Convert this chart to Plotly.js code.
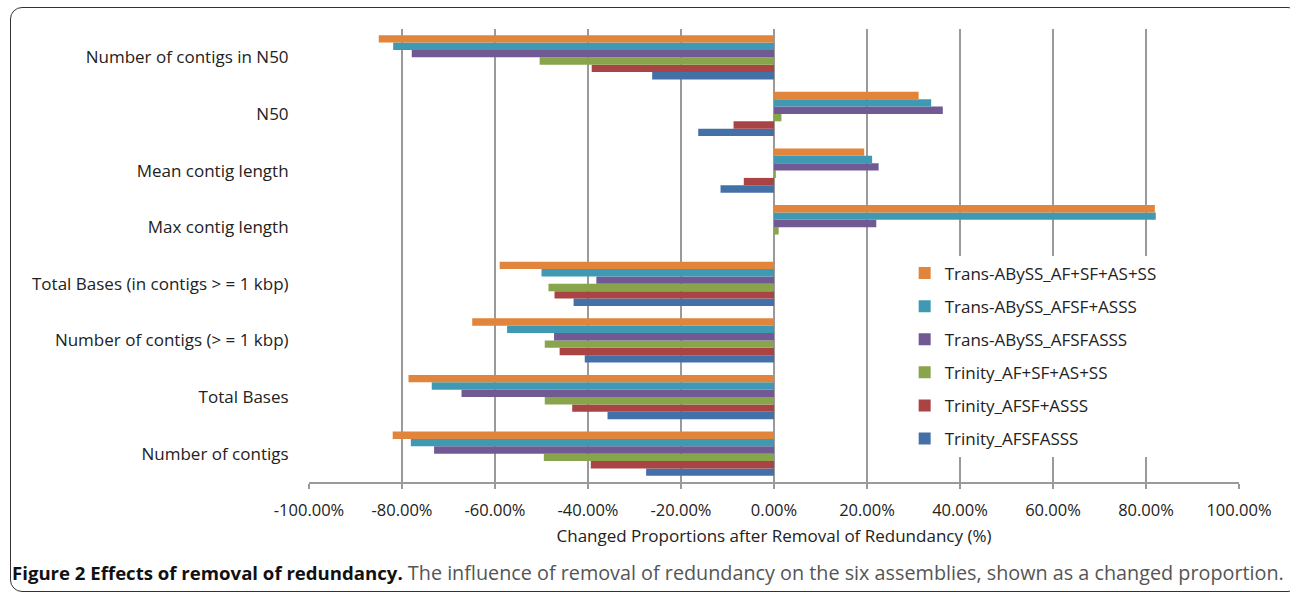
<!DOCTYPE html>
<html>
<head>
<meta charset="utf-8">
<script src="https://cdn.plot.ly/plotly-3.0.1.min.js"></script>
<style>
  html, body { margin:0; padding:0; background:#fff; }
  #wrap { position:relative; width:1290px; height:596px; overflow:hidden; }
  #frame { position:absolute; left:10px; top:7px; width:1290px; height:585px; border:1.5px solid #333; border-radius:12px; box-sizing:border-box; }
  #chart { position:absolute; left:0; top:0; width:1290px; height:596px; }
  #caption { position:absolute; left:12px; top:559px; font-family:"Open Sans", sans-serif; font-size:19.8px; color:#555; white-space:nowrap; }
  #caption b { color:#111; font-size:18.6px; }
</style>
</head>
<body>
<div id="wrap">
  <div id="frame"></div>
  <div id="chart"></div>
  <div id="caption"><b>Figure 2 Effects of removal of redundancy.</b> The influence of removal of redundancy on the six assemblies, shown as a changed proportion.</div>
</div>
<script>
// Categories, bottom to top
const categories = [
  "Number of contigs",
  "Total Bases",
  "Number of contigs (> = 1 kbp)",
  "Total Bases (in contigs > = 1 kbp)",
  "Max contig length",
  "Mean contig length",
  "N50",
  "Number of contigs in N50"
];

// Series values (%), same order as categories
const trinity_AFSFASSS        = [-27.5, -35.8, -40.7, -43.1,  0.0, -11.5, -16.3, -26.2];
const trinity_AFSF_ASSS       = [-39.4, -43.4, -46.1, -47.2,  0.0,  -6.5,  -8.7, -39.2];
const trinity_AF_SF_AS_SS     = [-49.5, -49.3, -49.3, -48.5,  1.0,   0.4,   1.6, -50.4];
const transAbyss_AFSFASSS     = [-73.1, -67.2, -47.3, -38.2, 22.0,  22.5,  36.3, -77.9];
const transAbyss_AFSF_ASSS    = [-78.1, -73.6, -57.4, -50.0, 82.1,  21.1,  33.8, -81.9];
const transAbyss_AF_SF_AS_SS  = [-82.0, -78.6, -64.9, -59.0, 81.9,  19.4,  31.1, -85.0];

const seriesNames = [
  "Trinity_AFSFASSS",
  "Trinity_AFSF+ASSS",
  "Trinity_AF+SF+AS+SS",
  "Trans-ABySS_AFSFASSS",
  "Trans-ABySS_AFSF+ASSS",
  "Trans-ABySS_AF+SF+AS+SS"
];
const seriesValues = [trinity_AFSFASSS, trinity_AFSF_ASSS, trinity_AF_SF_AS_SS,
                      transAbyss_AFSFASSS, transAbyss_AFSF_ASSS, transAbyss_AF_SF_AS_SS];
const colors = ["#4470A8", "#AA4444", "#88A54C", "#715A93", "#4099B3", "#E0853B"];

const xTickVals = [-100,-80,-60,-40,-20,0,20,40,60,80,100];
const xTickText = ["-100.00%","-80.00%","-60.00%","-40.00%","-20.00%","0.00%","20.00%","40.00%","60.00%","80.00%","100.00%"];

const traces = seriesNames.map((n, i) => ({
  type: "bar",
  orientation: "h",
  name: n,
  y: categories,
  x: seriesValues[i],
  marker: { color: colors[i] },
  legendgroup: "g" + i,
  legendrank: seriesNames.length - i,
  hoverinfo: "x+name"
}));

const boundaries = [];
for (let k = 0; k <= categories.length; k++) boundaries.push(k - 0.5);

const font = "Open Sans, sans-serif";
const layout = {
  width: 1290, height: 596,
  margin: { l: 309, r: 51, t: 29, b: 114 },
  paper_bgcolor: "rgba(0,0,0,0)",
  plot_bgcolor: "rgba(0,0,0,0)",
  barmode: "group",
  bargap: 0.22,
  bargroupgap: 0,
  font: { family: font, size: 15, color: "#222" },
  showlegend: true,
  legend: {
    x: 0.6405, y: 0.5, xanchor: "left", yanchor: "top",
    traceorder: "grouped",
    tracegroupgap: 8,
    bgcolor: "#fff",
    font: { family: font, size: 17, color: "#222" }
  },
  xaxis: {
    range: [-100, 100],
    tickvals: xTickVals,
    ticktext: xTickText,
    showgrid: true, gridcolor: "#9a9a9a", gridwidth: 1.5,
    zeroline: false,
    showline: true, linecolor: "#9a9a9a", linewidth: 2,
    ticks: "outside", ticklen: 5, tickcolor: "#9a9a9a", tickwidth: 1.5,
    ticklabelstandoff: 7,
    tickfont: { family: font, size: 16.5, color: "#222" },
    title: { text: "Changed Proportions after Removal of Redundancy (%)", font: { family: font, size: 17, color: "#222" }, standoff: 10 },
    fixedrange: true
  },
  yaxis: {
    type: "category",
    categoryorder: "array",
    categoryarray: categories,
    range: [-0.5, categories.length - 0.5],
    showgrid: false, zeroline: false, showline: false,
    ticks: "outside", ticklen: 16, tickcolor: "rgba(0,0,0,0)",
    tickfont: { family: font, size: 17, color: "#222" },
    fixedrange: true
  },
  yaxis2: {
    overlaying: "y",
    anchor: "free",
    position: 0.5,
    side: "left",
    type: "linear",
    range: [-0.5, categories.length - 0.5],
    tickmode: "array",
    tickvals: boundaries,
    showticklabels: false,
    showgrid: false, zeroline: false,
    showline: true, linecolor: "#9a9a9a", linewidth: 2,
    ticks: "inside", ticklen: 5, tickcolor: "#9a9a9a", tickwidth: 1.5,
    fixedrange: true
  }
};

Plotly.newPlot("chart", traces, layout, { displayModeBar: false, staticPlot: true });
</script>
</body>
</html>
